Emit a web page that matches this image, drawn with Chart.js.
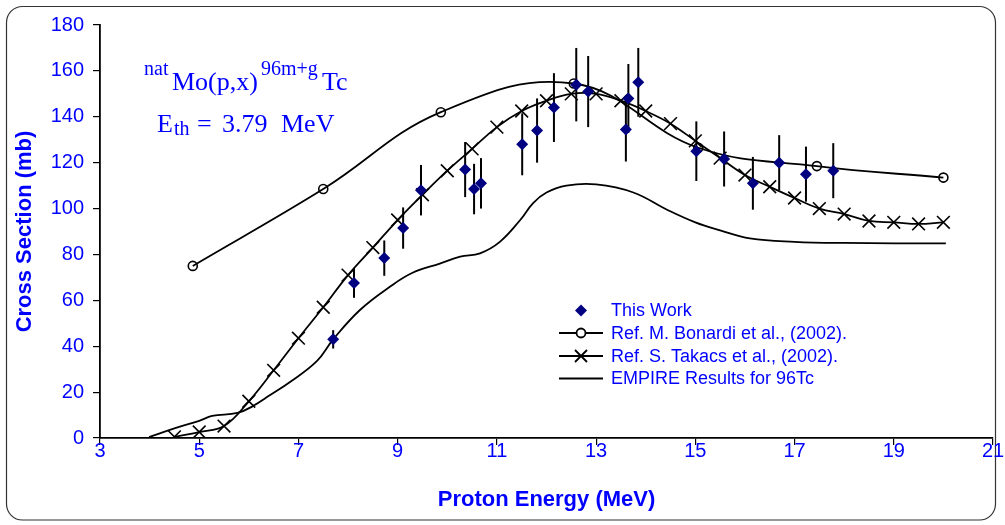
<!DOCTYPE html>
<html>
<head>
<meta charset="utf-8">
<script src="https://cdn.jsdelivr.net/npm/chart.js@4"></script>
<style>
  html, body { margin: 0; padding: 0; background: #fff; }
  #wrap { width: 1005px; height: 525px; }
</style>
</head>
<body>
<div id="wrap"><canvas id="chart" width="1005" height="525"></canvas></div>
<script>
// Данные
const xTicks = [3, 5, 7, 9, 11, 13, 15, 17, 19, 21];
const yTicks = [0, 20, 40, 60, 80, 100, 120, 140, 160, 180];

// This Work (с погрешностями)
const workE     = [7.7, 8.12, 8.73, 9.11, 9.47, 10.36, 10.54, 10.68, 11.51, 11.81, 12.15, 12.6, 12.84, 13.6, 13.65, 13.85, 15.02, 15.58, 16.16, 16.69, 17.23, 17.78];
const workSigma = [43, 67.6, 78.4, 91.5, 108, 117, 108.5, 111, 128, 134, 144, 154, 151, 134.5, 148, 155, 125, 121.6, 111, 120, 115, 116.5];
const workErr   = [4, 6.5, 7.7, 9, 11, 12, 11, 11, 13.5, 14, 15, 16, 15.5, 14, 15, 15, 13, 12, 11.5, 12, 12, 12];

// Ref. M. Bonardi et al., (2002)
const bonardiE     = [4.87, 7.5, 9.87, 12.55, 15.06, 17.45, 20.0];
const bonardiSigma = [75, 108.5, 142, 154.5, 126.5, 118.5, 113.5];

// Ref. S. Takacs et al., (2002)
const takacsE     = [4.5, 5.0, 5.5, 6.0, 6.5, 7.0, 7.5, 8.0, 8.5, 9.0, 9.5, 10.0, 10.5, 11.0, 11.5, 12.0, 12.5, 13.0, 13.5, 14.0, 14.5, 15.0, 15.5, 16.0, 16.5, 17.0, 17.5, 18.0, 18.5, 19.0, 19.5, 20.0];
const takacsSigma = [0.5, 2.6, 5.2, 16, 29.5, 43.5, 57, 71, 83, 95, 106, 116.5, 126, 135.5, 142.5, 147, 150, 150, 147, 142.5, 137, 129.5, 122, 114.6, 109.5, 104.6, 100, 97.6, 94.6, 94, 93.3, 94];

// EMPIRE Results for 96Tc
const empireE     = [3.99, 4.5, 5.0, 5.26, 5.77, 6.08, 6.43, 6.83, 7.37, 7.7, 8.24, 8.85, 9.3, 9.85, 10.26, 10.66, 11.06, 11.47, 11.73, 12.0, 12.4, 13.0, 13.75, 14.43, 15.0, 15.5, 16.1, 17.0, 18.0, 20.05];
const empireSigma = [0.4, 4.2, 7.5, 9.6, 10.9, 13.9, 18.7, 24.4, 33.5, 43, 55.8, 66, 72, 76, 79, 80.5, 85.5, 95, 102.4, 107, 110, 110.5, 107, 99.5, 94, 90.5, 87, 85.5, 85, 84.8];

const BLUE = '#0000ff';
const NAVY = '#000080';
const SANS = "'Liberation Sans', Arial, sans-serif";
const SERIF = "'Liberation Serif', 'Times New Roman', serif";

const toPts = (xs, ys) => xs.map((x, i) => ({ x, y: ys[i] }));

// Рамка со скруглёнными углами
const frame = {
  id: 'frame',
  beforeDraw(chart) {
    const ctx = chart.ctx;
    ctx.save();
    ctx.fillStyle = '#fff';
    ctx.fillRect(0, 0, chart.width, chart.height);
    ctx.strokeStyle = '#333';
    ctx.lineWidth = 1.2;
    ctx.beginPath();
    ctx.roundRect(6.5, 6.5, 989, 513.5, 16);
    ctx.stroke();
    ctx.restore();
  }
};

// Вертикальные планки погрешностей
const errorBars = {
  id: 'errorBars',
  beforeDatasetsDraw(chart) {
    const { ctx, scales: { x, y } } = chart;
    ctx.save();
    ctx.strokeStyle = '#000';
    ctx.lineWidth = 2;
    workE.forEach((e, i) => {
      const px = x.getPixelForValue(e);
      ctx.beginPath();
      ctx.moveTo(px, y.getPixelForValue(workSigma[i] - workErr[i]));
      ctx.lineTo(px, y.getPixelForValue(workSigma[i] + workErr[i]));
      ctx.stroke();
    });
    ctx.restore();
  }
};

// Легенда и подпись реакции
const extras = {
  id: 'extras',
  afterDraw(chart) {
    const ctx = chart.ctx;
    ctx.save();

    // легенда
    const rows = [
      { label: 'This Work', kind: 'diamond', y: 310.5 },
      { label: 'Ref. M. Bonardi et al., (2002).', kind: 'circle', y: 333 },
      { label: 'Ref. S. Takacs et al., (2002).', kind: 'cross', y: 356 },
      { label: 'EMPIRE Results for 96Tc', kind: 'line', y: 378.5 }
    ];
    const mx = 581;
    rows.forEach(r => {
      ctx.strokeStyle = '#000';
      ctx.lineWidth = 1.8;
      if (r.kind !== 'diamond') {
        ctx.beginPath();
        ctx.moveTo(559, r.y);
        ctx.lineTo(603, r.y);
        ctx.stroke();
      }
      if (r.kind === 'diamond') {
        ctx.fillStyle = NAVY;
        ctx.beginPath();
        ctx.moveTo(mx, r.y - 6); ctx.lineTo(mx + 6, r.y);
        ctx.lineTo(mx, r.y + 6); ctx.lineTo(mx - 6, r.y);
        ctx.closePath();
        ctx.fill();
      } else if (r.kind === 'circle') {
        ctx.fillStyle = '#fff';
        ctx.beginPath();
        ctx.arc(mx, r.y, 4.5, 0, Math.PI * 2);
        ctx.fill();
        ctx.stroke();
      } else if (r.kind === 'cross') {
        ctx.beginPath();
        ctx.moveTo(mx - 6, r.y - 6); ctx.lineTo(mx + 6, r.y + 6);
        ctx.moveTo(mx + 6, r.y - 6); ctx.lineTo(mx - 6, r.y + 6);
        ctx.stroke();
      }
      ctx.fillStyle = BLUE;
      ctx.font = `18px ${SANS}`;
      ctx.textBaseline = 'middle';
      ctx.fillText(r.label, 611, r.y + 1);
    });

    // natMo(p,x)96m+gTc и порог
    ctx.fillStyle = BLUE;
    ctx.textBaseline = 'alphabetic';
    const big = `26px ${SERIF}`, small = `20px ${SERIF}`;
    const runs = [
      ['nat', small, 144, 75],
      ['Mo(p,x)', big, 172, 90],
      ['96m+g', small, 261, 75],
      ['Tc', big, 322, 90],
      ['E', big, 157, 132],
      ['th', small, 174, 135],
      ['=', big, 197, 132],
      ['3.79', big, 222, 132],
      ['MeV', big, 281, 132]
    ];
    runs.forEach(([t, f, x, y]) => {
      ctx.font = f;
      ctx.fillText(t, x, y);
    });
    ctx.restore();
  }
};

new Chart(document.getElementById('chart'), {
  type: 'scatter',
  data: {
    datasets: [
      {
        label: 'This Work',
        data: toPts(workE, workSigma),
        showLine: false,
        pointStyle: 'rectRot',
        pointRadius: 6,
        backgroundColor: NAVY,
        borderColor: NAVY,
        borderWidth: 0
      },
      {
        label: 'Ref. M. Bonardi et al., (2002).',
        data: toPts(bonardiE, bonardiSigma),
        showLine: true,
        tension: 0.4,
        borderColor: '#000',
        borderWidth: 1.8,
        pointStyle: 'circle',
        pointRadius: 4.5,
        pointBorderWidth: 1.6,
        pointBackgroundColor: 'rgba(255,255,255,0)',
        pointBorderColor: '#000'
      },
      {
        label: 'Ref. S. Takacs et al., (2002).',
        data: toPts(takacsE, takacsSigma),
        showLine: true,
        tension: 0.4,
        borderColor: '#000',
        borderWidth: 1.8,
        pointStyle: 'crossRot',
        pointRadius: 9,
        pointBorderWidth: 1.6,
        pointBorderColor: '#000'
      },
      {
        label: 'EMPIRE Results for 96Tc',
        data: toPts(empireE, empireSigma),
        showLine: true,
        tension: 0.4,
        borderColor: '#000',
        borderWidth: 1.8,
        pointRadius: 0
      }
    ]
  },
  options: {
    responsive: false,
    animation: false,
    events: [],
    layout: { padding: { top: 25, right: 12, left: 0, bottom: 0 } },
    plugins: {
      legend: { display: false },
      tooltip: { enabled: false }
    },
    scales: {
      x: {
        type: 'linear',
        min: xTicks[0],
        max: xTicks[xTicks.length - 1],
        afterBuildTicks: s => { s.ticks = xTicks.map(v => ({ value: v })); },
        afterFit: s => { s.height = 87; },
        grid: { drawOnChartArea: false, drawTicks: true, tickLength: 7, color: '#000', lineWidth: 1.2 },
        border: { color: '#000', width: 1.8 },
        ticks: { color: BLUE, font: { family: SANS, size: 20 }, padding: -6, maxRotation: 0 },
        title: {
          display: true,
          text: 'Proton Energy (MeV)',
          color: BLUE,
          font: { family: SANS, size: 22, weight: 'bold' },
          padding: { top: 0, bottom: 12 }
        }
      },
      y: {
        type: 'linear',
        min: yTicks[0],
        max: yTicks[yTicks.length - 1],
        afterBuildTicks: s => { s.ticks = yTicks.map(v => ({ value: v })); },
        afterFit: s => { s.width = 100; },
        grid: { drawOnChartArea: false, drawTicks: true, tickLength: 7, color: '#000', lineWidth: 1.2 },
        border: { color: '#000', width: 1.8 },
        ticks: { color: BLUE, font: { family: SANS, size: 20 }, padding: 9 },
        title: {
          display: true,
          text: 'Cross Section (mb)',
          color: BLUE,
          font: { family: SANS, size: 22, weight: 'bold' },
          padding: { top: 12, bottom: 0 }
        }
      }
    }
  },
  plugins: [frame, errorBars, extras]
});
</script>
</body>
</html>
